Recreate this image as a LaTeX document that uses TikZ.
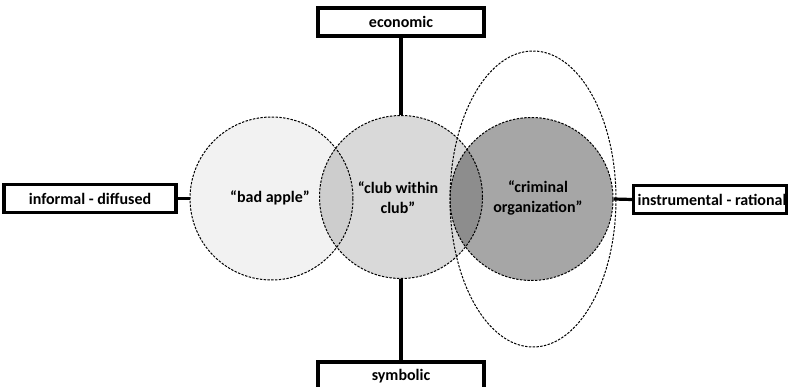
\documentclass[tikz,border=0pt]{standalone}
\usepackage{fontspec}
\setmainfont{Carlito}
\usetikzlibrary{positioning,shapes.geometric}
\begin{document}
\begin{tikzpicture}[x=1pt,y=-1pt,
  axisbox/.style={draw=black, line width=3.2pt, fill=white, inner sep=0pt,
    minimum height=28pt, font=\fontsize{16}{17}\selectfont\bfseries},
  axisline/.style={line width=3.2pt},
  typecircle/.style={circle, draw=black, dash pattern=on 2.4pt off 1.4pt,
    line width=1pt, minimum size=163pt, inner sep=0pt},
  typelabel/.style={align=center, font=\fontsize{16}{20}\selectfont\bfseries}]
  \useasboundingbox (0,0) rectangle (796,387);

  % scope of the criminal organization type
  \node[ellipse, draw=black, dash pattern=on 2.4pt off 1.4pt, line width=1pt,
    minimum width=166pt, minimum height=296pt, inner sep=0pt] (scope) at (533,199) {};

  % the three types of corruption
  \node[typecircle, fill=black!5] (apple) at (271.5,198.5) {};
  \node[typecircle, fill=black, fill opacity=0.15] (club) at (401,197) {};
  \node[typecircle, fill=black, fill opacity=0.35] (crim) at (531.5,199) {};

  \node[typelabel] (appleTxt) at (270,198) {“bad apple”};
  \node[typelabel] (clubTxt) at (398,198) {“club within\\club”};
  \node[typelabel] (crimTxt) at (538,198) {“criminal\\organization”};

  % the two axes
  \node[axisbox, minimum width=172pt] (informal) at (90,198.5) {informal - diffused};
  \node[axisbox, anchor=west] (instr) at (632,199.5) {\hspace{4pt}instrumental - rational\hspace{24pt}};
  \node[axisbox, minimum width=166pt] (econ) at (401,22) {economic};
  \node[axisbox, minimum width=166pt] (symb) at (401,376) {symbolic};

  \draw[axisline] (informal.east) -- (apple.west);
  \draw[axisline] (crim.east) -- (instr.west);
  \draw[axisline] (econ.south) -- (club.north);
  \draw[axisline] (club.south) -- (symb.north);
\end{tikzpicture}
\end{document}
